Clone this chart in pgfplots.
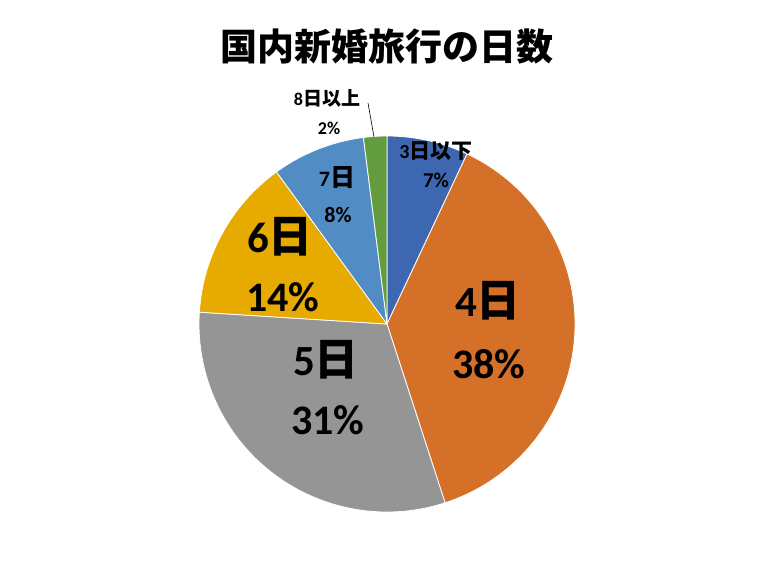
\documentclass[border=0pt]{standalone}
\usepackage{pgfplots}
\pgfplotsset{compat=1.18}
\usepackage{fontspec}
\newfontfamily\jp{Noto Sans CJK JP}
\newfontfamily\lat{Carlito}

\definecolor{c1}{HTML}{3D67B0}
\definecolor{c2}{HTML}{D57029}
\definecolor{c3}{HTML}{959595}
\definecolor{c4}{HTML}{E6AA00}
\definecolor{c5}{HTML}{528CC4}
\definecolor{c6}{HTML}{629C3E}

% size of latin digits / size of Japanese glyphs
\newcommand{\lbl}[2]{\fontsize{#1}{#1}\selectfont\bfseries\lat #2}
\newcommand{\J}[2]{{\fontsize{#1}{#1}\selectfont\bfseries\jp #2}}

\begin{document}
\begin{tikzpicture}
\begin{axis}[
    hide axis,
    scale only axis,
    width=774pt, height=566pt,
    xmin=0, xmax=774, ymin=0, ymax=566,
    clip=false,
]
\addplot[draw=none, fill=white] coordinates {(0,0) (774,0) (774,566) (0,566)} -- cycle;

% pie: 3日以下, 4日, 5日, 6日, 7日, 8日以上 (percent), clockwise from top
\def\cx{387}\def\cy{242}\def\rad{188}
\xdef\start{90}
\foreach \v/\c in {7/c1, 38/c2, 31/c3, 14/c4, 8/c5, 2/c6}{
    \pgfmathsetmacro\en{\start-3.6*\v}
    \edef\temp{\noexpand\fill[\c, draw=white, line width=0.8pt]
        (axis cs:\cx,\cy) -- ++(\start:\rad pt)
        arc[start angle=\start, end angle=\en, radius=\rad pt] -- cycle;}
    \temp
    \xdef\start{\en}
}

% title
\node at (axis cs:387,520) {\J{37}{国内新婚旅行の日数}};

% labels
\node at (axis cs:436,415) {\lbl{20}{3}\J{21}{日以下}};
\node at (axis cs:436,386) {\lbl{21}{7\%}};
\node at (axis cs:488,265) {\lbl{43}{4}\J{44}{日}};
\node at (axis cs:489,202) {\lbl{42}{38\%}};
\node at (axis cs:326,206) {\lbl{43}{5}\J{44}{日}};
\node at (axis cs:328,146) {\lbl{42}{31\%}};
\node at (axis cs:280,329) {\lbl{43}{6}\J{44}{日}};
\node at (axis cs:283,269) {\lbl{42}{14\%}};
\node at (axis cs:337,388) {\lbl{22}{7}\J{25}{日}};
\node at (axis cs:338,351) {\lbl{22}{8\%}};
\node at (axis cs:327,468) {\lbl{18}{8}\J{19}{日以上}};
\node at (axis cs:329,438) {\lbl{18}{2\%}};
\draw[black, line width=0.6pt] (axis cs:368,463) -- (axis cs:374,429);
\end{axis}
\end{tikzpicture}
\end{document}
